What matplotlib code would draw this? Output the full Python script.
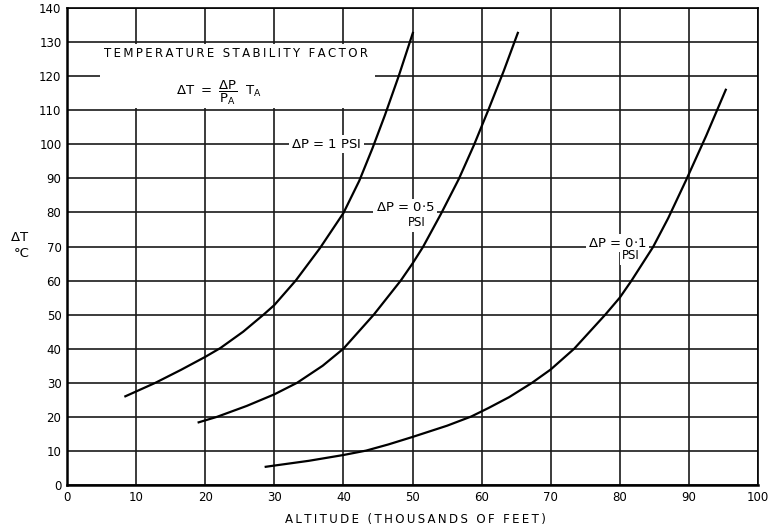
import matplotlib
matplotlib.use("Agg")
import matplotlib.pyplot as plt
from matplotlib.patches import Rectangle

plt.rcParams['font.family'] = ['DejaVu Sans']
plt.rcParams['mathtext.fontset'] = 'dejavusans'

# ---- data ----
x_1psi = [8.3, 12.8, 16.5, 20, 22.2, 25.5, 28.5, 30, 33.1, 36.6, 40, 42.3, 44.2, 46, 48, 50.1]
y_1psi = [25.9, 30, 33.8, 37.6, 40.2, 45.0, 50.1, 52.8, 60, 69.5, 79.8, 89.3, 98.8, 108.5, 120, 133]

x_05psi = [18.9, 21.7, 26, 30, 33.3, 37, 40, 44.4, 48.3, 50, 51.5, 54.1, 56.7, 58.9, 61, 63.2, 65.3]
y_05psi = [18.3, 20, 23.2, 26.6, 30, 35, 40, 50, 60, 65, 69.8, 79.5, 89.8, 99.8, 110.2, 121.5, 133]

x_01psi = [28.6, 30, 35, 40, 43.3, 46.5, 50, 55, 58.5, 61, 64, 67.3, 70, 73.4, 77.9, 80,
           81.7, 84.8, 87, 89.6, 92.5, 95.4]
y_01psi = [5.3, 5.7, 7.1, 8.8, 10.1, 11.9, 14.1, 17.4, 20.1, 22.6, 25.8, 30, 33.9, 40, 50, 55,
           60, 69.8, 78.3, 89.5, 102.5, 116.3]

x_ticks = list(range(0, 101, 10))
y_ticks = list(range(0, 141, 10))


def spaced(s, sep='\u2009'):
    return sep.join(s)


fig = plt.figure(figsize=(7.72, 5.29), dpi=100)
ax = fig.add_axes([67 / 772, 44 / 529, 691 / 772, 477 / 529])
ax.set_xlim(0, 100)
ax.set_ylim(0, 140)
ax.set_xticks(x_ticks)
ax.set_yticks(y_ticks)
ax.set_xticklabels([str(v) for v in x_ticks], fontsize=8.5)
ax.set_yticklabels([str(v) for v in y_ticks], fontsize=8.5)
ax.tick_params(length=0, pad=4)
ax.grid(True, color='#1a1a1a', linewidth=1.2, zorder=1)
ax.set_axisbelow(True)
for side in ['left', 'bottom']:
    ax.spines[side].set_linewidth(1.8)
for side in ['top', 'right']:
    ax.spines[side].set_linewidth(1.2)

for xs, ys in [(x_1psi, y_1psi), (x_05psi, y_05psi), (x_01psi, y_01psi)]:
    ax.plot(xs, ys, color='black', linewidth=1.6, zorder=4,
            solid_capstyle='butt', solid_joinstyle='round')

# white title block
ax.add_patch(Rectangle((4.8, 110.6), 39.8, 18.8, facecolor='white',
                       edgecolor='none', zorder=2))
ax.text(24.5, 126.6, spaced('TEMPERATURE STABILITY FACTOR'), fontsize=8.5,
        ha='center', va='center', zorder=3)
ax.text(22, 115.0, r'$\Delta\mathrm{T}\ =\ \dfrac{\Delta \mathrm{P}}{\mathrm{P_A}}\ \ \mathrm{T_A}$',
        fontsize=9.5, ha='center', va='center', zorder=3)

box = dict(facecolor='white', edgecolor='none', pad=1.8)
ax.text(37.5, 100, r'$\Delta$P = 1 PSI', fontsize=9.5, ha='center', va='center',
        zorder=3, bbox=box)
ax.text(48.9, 81.3, r'$\Delta$P = 0$\cdot$5', fontsize=9.5, ha='center', va='center',
        zorder=3, bbox=box)
ax.text(50.6, 77.0, 'PSI', fontsize=8.5, ha='center', va='center',
        zorder=3, bbox=box)
ax.text(79.7, 71, r'$\Delta$P = 0$\cdot$1', fontsize=9.5, ha='center', va='center',
        zorder=3, bbox=box)
ax.text(81.6, 67.3, 'PSI', fontsize=8.5, ha='center', va='center',
        zorder=3, bbox=box)

fig.text(20 / 772, 1 - 237 / 529, r'$\Delta$T', fontsize=9.5, ha='center', va='center')
fig.text(22 / 772, 1 - 254 / 529, '°C', fontsize=9.5, ha='center', va='center')
fig.text(415 / 772, 1 - 519 / 529, spaced('ALTITUDE (THOUSANDS OF FEET)'),
         fontsize=8.5, ha='center', va='center')

fig.savefig('out.png', dpi=100, facecolor='white')
